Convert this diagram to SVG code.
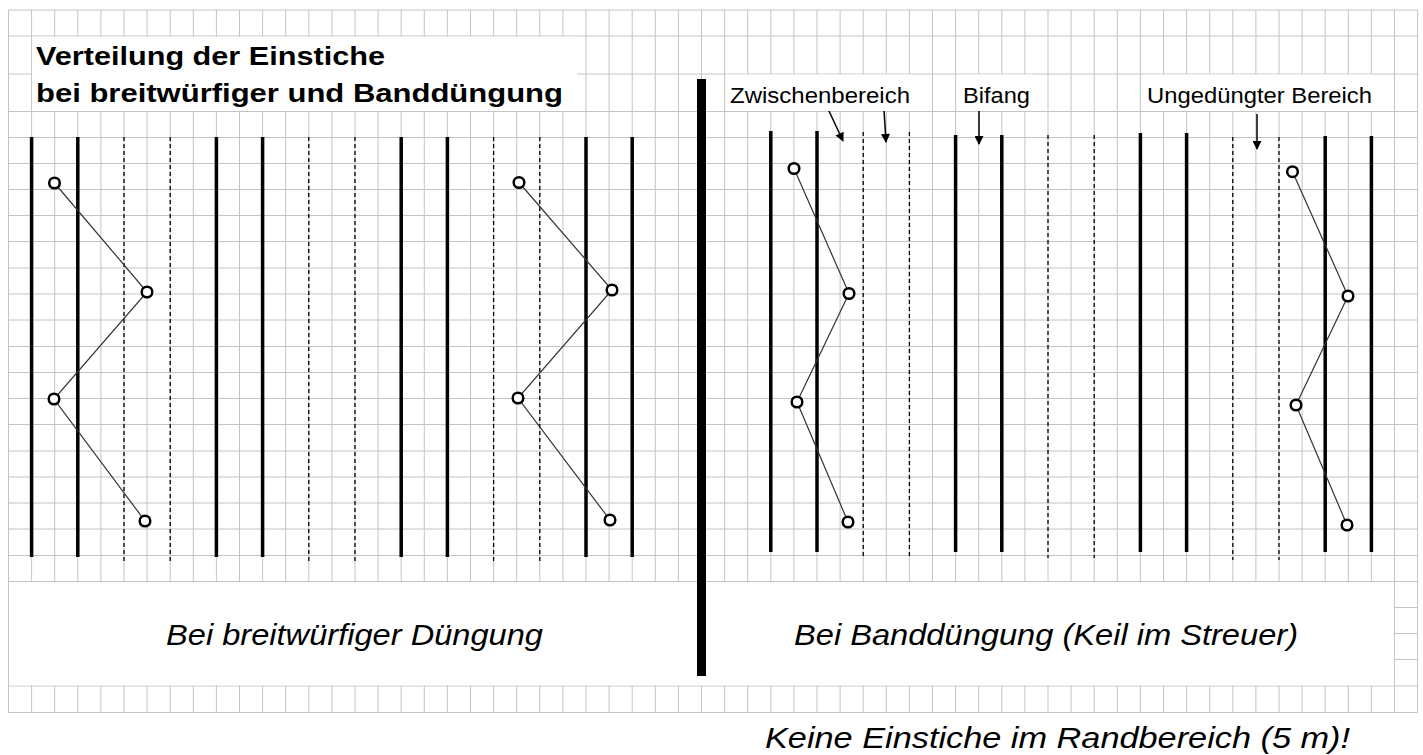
<svg xmlns="http://www.w3.org/2000/svg" width="1423" height="755" viewBox="0 0 1423 755">
<style>
.grid{stroke:#c4c4c4;stroke-width:1;fill:none}
.thick{stroke:#000;stroke-width:3.5;fill:none}
.dash{stroke:#000;stroke-width:1.3;stroke-dasharray:4 3;fill:none}
.zig{stroke:#333;stroke-width:1.2;fill:none}
.pt{stroke:#000;stroke-width:2.5;fill:#fff}
.arr{stroke:#000;stroke-width:1.5;fill:none;marker-end:url(#ah)}
.t{font-family:"Liberation Sans",Arial,sans-serif;fill:#000}
.title{font-weight:bold;font-size:25px}
.ann{font-size:22.5px}
.lab{font-style:italic;font-size:29px}
</style>
<defs>
<marker id="ah" viewBox="0 0 10 10" refX="9" refY="5" markerWidth="10" markerHeight="9" orient="auto" markerUnits="userSpaceOnUse">
<path d="M0,0L10,5L0,10z" fill="#000"/>
</marker>
</defs>
<rect width="1423" height="755" fill="#fff"/>
<g id="grid">
<path class="grid" d="M8.5 10V712.5M31.6 10V712.5M54.7 10V712.5M77.8 10V712.5M100.9 10V712.5M124 10V712.5M147.1 10V712.5M170.2 10V712.5M193.3 10V712.5M216.4 10V712.5M239.5 10V712.5M262.6 10V712.5M285.7 10V712.5M308.8 10V712.5M331.9 10V712.5M355 10V712.5M378.1 10V712.5M401.2 10V712.5M424.3 10V712.5M447.4 10V712.5M470.5 10V712.5M493.6 10V712.5M516.7 10V712.5M539.8 10V712.5M562.9 10V712.5M586 10V712.5M609.1 10V712.5M632.2 10V712.5M655.3 10V712.5M678.4 10V712.5M701.5 10V712.5M724.6 10V712.5M747.7 10V712.5M770.8 10V712.5M793.9 10V712.5M817 10V712.5M840.1 10V712.5M863.2 10V712.5M886.3 10V712.5M909.4 10V712.5M932.5 10V712.5M955.6 10V712.5M978.7 10V712.5M1001.8 10V712.5M1024.9 10V712.5M1048 10V712.5M1071.1 10V712.5M1094.2 10V712.5M1117.3 10V712.5M1140.4 10V712.5M1163.5 10V712.5M1186.6 10V712.5M1209.7 10V712.5M1232.8 10V712.5M1255.9 10V712.5M1279 10V712.5M1302.1 10V712.5M1325.2 10V712.5M1348.3 10V712.5M1371.4 10V712.5M1394.5 10V712.5M1417.6 10V712.5"/>
<path class="grid" d="M8.5 10H1417.6M8.5 36H1417.6M8.5 74H1417.6M8.5 111.5H1417.6M8.5 137.5H1417.6M8.5 163.5H1417.6M8.5 189.5H1417.6M8.5 215.5H1417.6M8.5 241.5H1417.6M8.5 268H1417.6M8.5 294H1417.6M8.5 320H1417.6M8.5 346.5H1417.6M8.5 372.5H1417.6M8.5 398.5H1417.6M8.5 424.5H1417.6M8.5 451H1417.6M8.5 477H1417.6M8.5 503H1417.6M8.5 529H1417.6M8.5 555.5H1417.6M8.5 581.5H1417.6M1394.5 607.5H1417.6M1394.5 633.5H1417.6M1394.5 659.5H1417.6M8.5 686H1417.6M8.5 712.5H1417.6"/>
<rect x="32.2" y="36.6" width="545" height="74.4" fill="#fff"/>
<rect x="9.1" y="582.1" width="1384.8" height="103.3" fill="#fff"/>
</g>
<g id="title">
<text class="t title" x="36" y="65" textLength="349" lengthAdjust="spacingAndGlyphs">Verteilung der Einstiche</text>
<text class="t title" x="36" y="101.5" textLength="527" lengthAdjust="spacingAndGlyphs">bei breitwürfiger und Banddüngung</text>
</g>
<g id="divider">
<rect x="697" y="79" width="9" height="597" fill="#000"/>
</g>
<g id="left-panel">
<path class="thick" d="M31.6 137V557M77.8 137V557M216.4 137V557M262.6 137V557M401.2 137V557M447.4 137V557M586 137V557M632.2 137V557"/>
<path class="dash" d="M124 137V561M170.2 137V561M308.8 137V561M355 137V561M493.6 137V561M539.8 137V561"/>
</g>
<g id="right-panel">
<path class="thick" d="M770.8 131V552M817 131V552M955.6 135V552M1001.8 135V552M1140.4 133V552M1186.6 133V552M1325.2 136V552M1371.4 136V552"/>
<path class="dash" d="M863.2 132V558M909.4 132V558M1048 135V558M1094.2 135V558M1232.8 137V560M1279 137V560"/>
</g>
<g id="connectors">
<polyline class="zig" points="54.5,183 147,292 54,399 145,521"/>
<polyline class="zig" points="519,182.5 612,290 518,398 610,520"/>
<polyline class="zig" points="794,168.5 849,293.5 797,402 848,522"/>
<polyline class="zig" points="1292.5,171.7 1348,296 1296,405 1347,525"/>
<path class="arr" d="M828.5 110L843 141"/>
<path class="arr" d="M884 110L886 142"/>
<path class="arr" d="M979 110V144"/>
<path class="arr" d="M1257 114V149"/>
</g>
<g id="points">
<circle class="pt" cx="54.5" cy="183" r="5.3"/>
<circle class="pt" cx="147" cy="292" r="5.3"/>
<circle class="pt" cx="54" cy="399" r="5.3"/>
<circle class="pt" cx="145" cy="521" r="5.3"/>
<circle class="pt" cx="519" cy="182.5" r="5.3"/>
<circle class="pt" cx="612" cy="290" r="5.3"/>
<circle class="pt" cx="518" cy="398" r="5.3"/>
<circle class="pt" cx="610" cy="520" r="5.3"/>
<circle class="pt" cx="794" cy="168.5" r="5.3"/>
<circle class="pt" cx="849" cy="293.5" r="5.3"/>
<circle class="pt" cx="797" cy="402" r="5.3"/>
<circle class="pt" cx="848" cy="522" r="5.3"/>
<circle class="pt" cx="1292.5" cy="171.7" r="5.3"/>
<circle class="pt" cx="1348" cy="296" r="5.3"/>
<circle class="pt" cx="1296" cy="405" r="5.3"/>
<circle class="pt" cx="1347" cy="525" r="5.3"/>
</g>
<g id="annotations">
<rect x="726" y="74.5" width="186" height="36.5" fill="#fff"/>
<rect x="957" y="74.5" width="77" height="36.5" fill="#fff"/>
<rect x="1143" y="74.5" width="230" height="36.5" fill="#fff"/>
<text class="t ann" x="730" y="102.7" textLength="180" lengthAdjust="spacingAndGlyphs">Zwischenbereich</text>
<text class="t ann" x="963" y="102.7" textLength="67" lengthAdjust="spacingAndGlyphs">Bifang</text>
<text class="t ann" x="1147" y="102.7" textLength="225" lengthAdjust="spacingAndGlyphs">Ungedüngter Bereich</text>
</g>
<g id="labels">
<text class="t lab" x="166" y="645" textLength="377" lengthAdjust="spacingAndGlyphs">Bei breitwürfiger Düngung</text>
<text class="t lab" x="794" y="645" textLength="504" lengthAdjust="spacingAndGlyphs">Bei Banddüngung (Keil im Streuer)</text>
<text class="t lab" x="765" y="748" textLength="585" lengthAdjust="spacingAndGlyphs">Keine Einstiche im Randbereich (5 m)!</text>
</g>
</svg>
